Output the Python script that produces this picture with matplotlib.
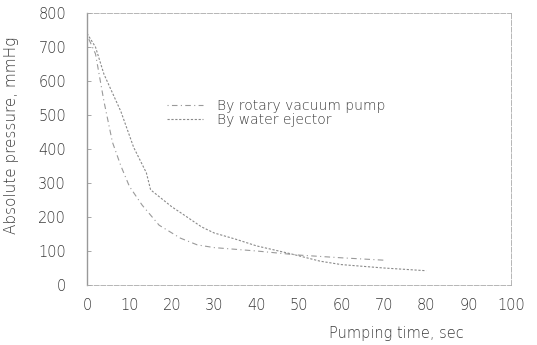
import matplotlib.pyplot as plt

# Pressure drop in the vessel for two ways of pumping it down.
rotary_time = [0, 2, 4, 6, 8, 10, 13, 17, 22, 26, 30, 40, 50, 60, 70]
rotary_pressure = [735, 680, 540, 420, 350, 290, 235, 176, 138, 118, 110, 100, 88, 80, 73]

ejector_time = [0, 2, 4, 8, 11, 14, 15, 20, 23, 27, 30, 35, 40, 48, 55, 60, 65, 70, 75, 80]
ejector_pressure = [740, 700, 620, 510, 405, 330, 280, 230, 205, 171, 153, 135, 115, 92,
                    70, 60, 55, 50, 46, 42]

x_ticks = [0, 10, 20, 30, 40, 50, 60, 70, 80, 90, 100]
y_ticks = [0, 100, 200, 300, 400, 500, 600, 700, 800]

plt.rcParams['font.family'] = ['DejaVu Sans']
plt.rcParams['font.weight'] = 'light'
ink = '#3a3a3a'

fig = plt.figure(figsize=(5.37, 3.45), dpi=100)
ax = fig.add_axes([87 / 537, 60 / 345, 424 / 537, 272 / 345])

ax.plot(rotary_time, rotary_pressure, color='#9a9a9a', linewidth=0.8,
        linestyle=(0, (1, 3, 5, 3)), label='By rotary vacuum pump')
ax.plot(ejector_time, ejector_pressure, color='#8a8a8a', linewidth=0.8,
        linestyle=(0, (2, 1.5)), label='By water ejector')

ax.set_xlim(0, 100)
ax.set_ylim(0, 800)
ax.set_xticks(x_ticks)
ax.set_yticks(y_ticks)
ax.tick_params(axis='both', direction='in', length=3, width=0.6, color='#999999',
               labelsize=10.5, labelcolor=ink, pad=15)
ax.tick_params(axis='x', length=0, pad=9)

for side in ['top', 'right', 'bottom']:
    ax.spines[side].set_color('#aaaaaa')
    ax.spines[side].set_linewidth(0.6)
    ax.spines[side].set_linestyle((0, (6, 2)))
ax.spines['left'].set_color('#999999')
ax.spines['left'].set_linewidth(1.0)

ax.set_xlabel('Pumping time, sec', fontsize=10.5, color=ink, fontweight='light')
ax.xaxis.set_label_coords(0.73, -0.15)
ax.set_ylabel('Absolute pressure, mmHg', fontsize=11, color=ink, fontweight='light')
ax.yaxis.set_label_coords(-0.16, 0.55)

leg = ax.legend(loc='upper left', bbox_to_anchor=(0.16, 0.73), frameon=False,
                fontsize=10, handlelength=2.6, handletextpad=1.0, labelspacing=0.0)
for text in leg.get_texts():
    text.set_color(ink)

plt.savefig('out.png', dpi=100)
